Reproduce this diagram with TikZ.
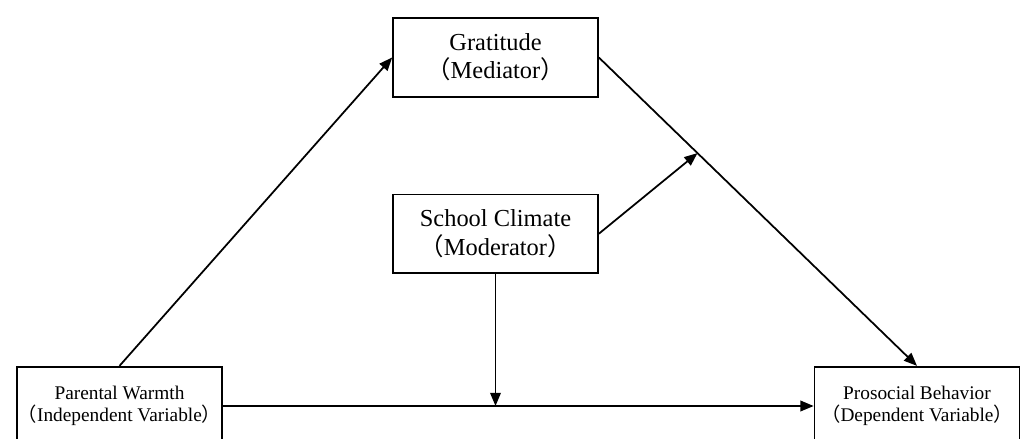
\documentclass[tikz,border=0pt]{standalone}
\usepackage{fontspec}
\setmainfont{Liberation Serif}
\newfontfamily\cjk{Noto Sans CJK SC}
\usetikzlibrary{positioning,arrows.meta}
\newcommand{\zlp}{{\cjk （}}
\newcommand{\zrp}{{\cjk ）}}

\begin{document}
\begin{tikzpicture}[x=0.02cm,y=-0.02cm,
		varbox/.style={draw, line width=1pt, align=center, inner sep=0pt,
			minimum width=4.1cm, minimum height=1.57cm},
		bigtext/.style={font=\fontsize{13.9}{16}\selectfont},
		smalltext/.style={font=\fontsize{11}{12.2}\selectfont},
		arr/.style={-{Triangle[length=7.5pt,width=6pt]}, line width=1pt}]
			\useasboundingbox (0,0) rectangle (1021,439);
			
			\node[varbox, bigtext] (grat) at (495.5,57.5) {Gratitude\\\zlp Mediator\zrp};
			\node[varbox, bigtext, below = 1.92cm of grat] (school) {School Climate\\\zlp Moderator\zrp};
			\node[varbox, smalltext] (warmth) at (119.5,406) {Parental Warmth\\\zlp Independent Variable\zrp};
			\node[varbox, smalltext] (behav) at (917,406) {Prosocial Behavior\\\zlp Dependent Variable\zrp};
			
			\draw[arr] (warmth.north) -- (grat.west);
			\draw[arr] (grat.east) -- coordinate[pos=0.31] (mid) (behav.north);
			\draw[arr] (school.east) -- (mid);
			\draw[arr] (warmth.east) -- (behav.west);
			\draw[arr] (school.south) -- (school.south |- warmth.east);
		\end{tikzpicture}
\end{document}
